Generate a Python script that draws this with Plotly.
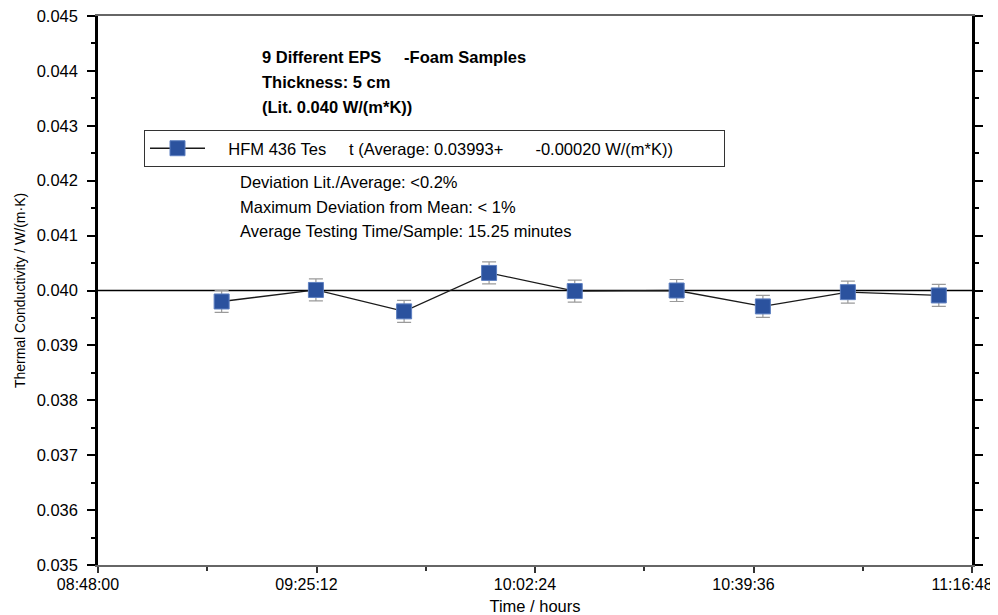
import plotly.graph_objects as go

# ---- data ----
times = ["2024-01-01 09:09:03", "2024-01-01 09:25:06", "2024-01-01 09:40:07",
         "2024-01-01 09:54:35", "2024-01-01 10:09:10", "2024-01-01 10:26:31",
         "2024-01-01 10:41:12", "2024-01-01 10:55:40", "2024-01-01 11:11:09"]
conductivity = [0.03980, 0.04001, 0.03962, 0.04032, 0.03999, 0.04000, 0.03971, 0.03997, 0.03991]
errors = [0.00020, 0.00020, 0.00020, 0.00020, 0.00020, 0.00020, 0.00020, 0.00020, 0.00020]
lit_value = 0.040
x_range = ["2024-01-01 08:48:00", "2024-01-01 11:16:48.05"]
y_range = [0.035, 0.045]

NB = "\u00a0"
legend_name = (NB * 4 + "HFM 436 Tes" + NB * 5 + "t (Average: 0.03993+" + NB * 7 +
               "-0.00020 W/(m*K))" + NB * 10)
title_lines = ["9 Different EPS" + NB * 5 + "-Foam Samples", "Thickness: 5 cm", "(Lit. 0.040 W/(m*K))"]
stat_lines = ["Deviation Lit./Average: <0.2%", "Maximum Deviation from Mean: < 1%",
              "Average Testing Time/Sample: 15.25 minutes"]

FONT = "Liberation Sans, Arial, sans-serif"
FS = 16.5

fig = go.Figure()
fig.add_trace(go.Scatter(
    x=times, y=conductivity, mode="lines+markers", name=legend_name,
    line=dict(color="#1a1a1a", width=1.3),
    marker=dict(symbol="square", size=15, color="#2B529E", line=dict(color="#5d7fc0", width=1)),
    error_y=dict(type="data", array=errors, visible=True, color="#9a9a9a", thickness=1.2, width=7),
))

fig.add_shape(type="line", xref="paper", x0=0, x1=1, yref="y", y0=lit_value, y1=lit_value,
              line=dict(color="black", width=1.4), layer="below")

# The page places the figure 8 px from the window's top-left corner.
OFF = 8
W, H = 998 - OFF, 615 - OFF
L, R, T, B = 98 - OFF, 26, 16 - OFF, 50
pw, ph = W - L - R, H - T - B

def px(x):
    return (x - OFF - L) / pw

def py(y):
    return (H - B - (y - OFF)) / ph

ann = []
for i, t in enumerate(title_lines):
    ann.append(dict(x=px(260), y=py(57 + 25 * i), xref="paper", yref="paper", text="<b>" + t + "</b>",
                    showarrow=False, xanchor="left", yanchor="middle",
                    font=dict(size=FS, color="black", family=FONT)))
for i, t in enumerate(stat_lines):
    ann.append(dict(x=px(238), y=py(182 + 24.5 * i), xref="paper", yref="paper", text=t,
                    showarrow=False, xanchor="left", yanchor="middle",
                    font=dict(size=FS, color="black", family=FONT)))

fig.update_layout(
    width=W, height=H,
    margin=dict(l=L, r=R, t=T, b=B),
    paper_bgcolor="white", plot_bgcolor="white",
    font=dict(family=FONT, color="black", size=FS),
    showlegend=True,
    legend=dict(x=px(144), y=py(130), xanchor="left", yanchor="top",
                bordercolor="#333333", borderwidth=1, bgcolor="white",
                font=dict(size=FS, family=FONT), itemwidth=55,
                tracegroupgap=0),
    annotations=ann,
    xaxis=dict(
        type="date", range=x_range, tickformat="%H:%M:%S",
        tick0="2024-01-01 08:48:00", dtick=2232000,
        showgrid=False, zeroline=False, automargin=False,
        showline=True, linecolor="#666666", linewidth=2, mirror=True,
        ticks="outside", ticklen=6, tickcolor="#333333", tickwidth=1.5,
        minor=dict(dtick=1116000, tick0="2024-01-01 08:48:00", ticks="outside", ticklen=4,
                   tickcolor="#333333", showgrid=False),
        tickfont=dict(size=16, family=FONT), ticklabeloverflow="allow",
        ticklabelstandoff=-2, ticklabelshift=-10,
        title=dict(text="Time / hours", font=dict(size=FS, family=FONT), standoff=12),
    ),
    yaxis=dict(
        range=y_range, dtick=0.001, tickformat=".3f",
        showgrid=False, zeroline=False, automargin=False,
        showline=True, linecolor="black", linewidth=2.5, mirror="ticks",
        ticks="outside", ticklen=8, tickcolor="black", tickwidth=2,
        minor=dict(dtick=0.0005, ticks="outside", ticklen=4, tickcolor="black", showgrid=False),
        tickfont=dict(size=FS, family=FONT), ticklabelstandoff=6, ticklabeloverflow="allow",
        title=dict(text="Thermal Conductivity / W/(m·K)", font=dict(size=14, family=FONT), standoff=8),
    ),
)

fig.write_html("out.html")
